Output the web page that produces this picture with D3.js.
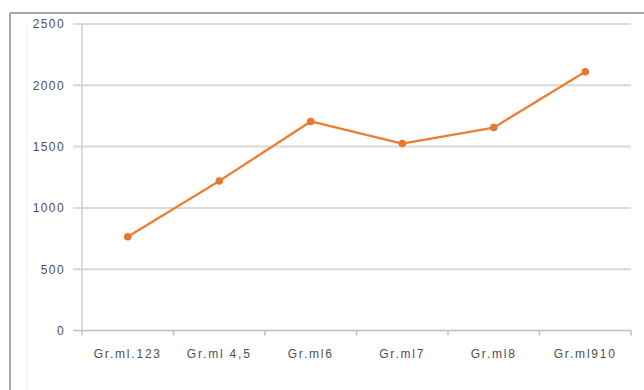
<!DOCTYPE html>
<html>
<head>
<meta charset="utf-8">
<script src="https://cdn.jsdelivr.net/npm/d3@7"></script>
<style>
  html, body { margin: 0; padding: 0; background: #ffffff; }
  svg { display: block; }
</style>
</head>
<body>
<svg id="chart" width="644" height="390"></svg>
<script>
const categories = ["Gr.ml.123", "Gr.ml 4,5", "Gr.ml6", "Gr.ml7", "Gr.ml8", "Gr.ml910"];
const values = [765, 1220, 1705, 1525, 1655, 2110];
const yTicks = [0, 500, 1000, 1500, 2000, 2500];

const svg = d3.select("#chart");
const W = 644, H = 390;
const plotL = 82, plotR = 631, plotT = 24, plotB = 330.5;

// outer frame
svg.append("line").attr("x1", 10).attr("x2", W).attr("y1", 13).attr("y2", 13)
  .attr("stroke", "#a6a6a6").attr("stroke-width", 2);
svg.append("line").attr("x1", 10).attr("x2", 10).attr("y1", 13).attr("y2", H)
  .attr("stroke", "#a6a6a6").attr("stroke-width", 2);
svg.append("line").attr("x1", 27).attr("x2", 27).attr("y1", 22).attr("y2", H)
  .attr("stroke", "#f0f0f0").attr("stroke-width", 1);

const x = d3.scaleBand().domain(categories).range([plotL, plotR]).padding(0);
const y = d3.scaleLinear().domain([0, 2500]).range([plotB, plotT]);

// gridlines (extend left as tick marks)
svg.append("g").selectAll("line").data(yTicks.filter(d => d > 0)).join("line")
  .attr("x1", plotL - 9).attr("x2", plotR)
  .attr("y1", d => y(d)).attr("y2", d => y(d))
  .attr("stroke", "#d9d9d9").attr("stroke-width", 2);

// y axis line
svg.append("line").attr("x1", plotL).attr("x2", plotL).attr("y1", plotT).attr("y2", plotB)
  .attr("stroke", "#cfcfcf").attr("stroke-width", 1.5);

// x axis line
svg.append("line").attr("x1", plotL - 9).attr("x2", plotR).attr("y1", plotB).attr("y2", plotB)
  .attr("stroke", "#bfbfbf").attr("stroke-width", 1.5);

// x tick marks at band boundaries
const bounds = categories.map(c => x(c)).concat([x(categories[categories.length - 1]) + x.bandwidth()]);
svg.append("g").selectAll("line").data(bounds).join("line")
  .attr("x1", d => d).attr("x2", d => d)
  .attr("y1", plotB).attr("y2", plotB + 5)
  .attr("stroke", "#bfbfbf").attr("stroke-width", 1.5);

// y labels
svg.append("g").selectAll("text").data(yTicks).join("text")
  .attr("x", 65).attr("y", d => y(d))
  .attr("dy", "0.36em")
  .attr("text-anchor", "end")
  .attr("font-family", "'Liberation Sans', Arial, sans-serif")
  .attr("font-size", 12)
  .attr("letter-spacing", "1.4px")
  .attr("fill", "#505050")
  .text(d => d);

// x labels
svg.append("g").selectAll("text").data(categories).join("text")
  .attr("x", d => x(d) + x.bandwidth() / 2)
  .attr("y", 354)
  .attr("dy", "0.36em")
  .attr("text-anchor", "middle")
  .attr("font-family", "'Liberation Sans', Arial, sans-serif")
  .attr("font-size", 12)
  .attr("letter-spacing", "1.8px")
  .attr("fill", "#505050")
  .text(d => d);

// line
const line = d3.line()
  .x((d, i) => x(categories[i]) + x.bandwidth() / 2)
  .y(d => y(d));
svg.append("path").datum(values)
  .attr("d", line)
  .attr("fill", "none")
  .attr("stroke", "#ED7D31")
  .attr("stroke-width", 2.25)
  .attr("stroke-linejoin", "round");

// markers
svg.append("g").selectAll("circle").data(values).join("circle")
  .attr("cx", (d, i) => x(categories[i]) + x.bandwidth() / 2)
  .attr("cy", d => y(d))
  .attr("r", 3.8)
  .attr("fill", "#E8782E");
</script>
</body>
</html>
